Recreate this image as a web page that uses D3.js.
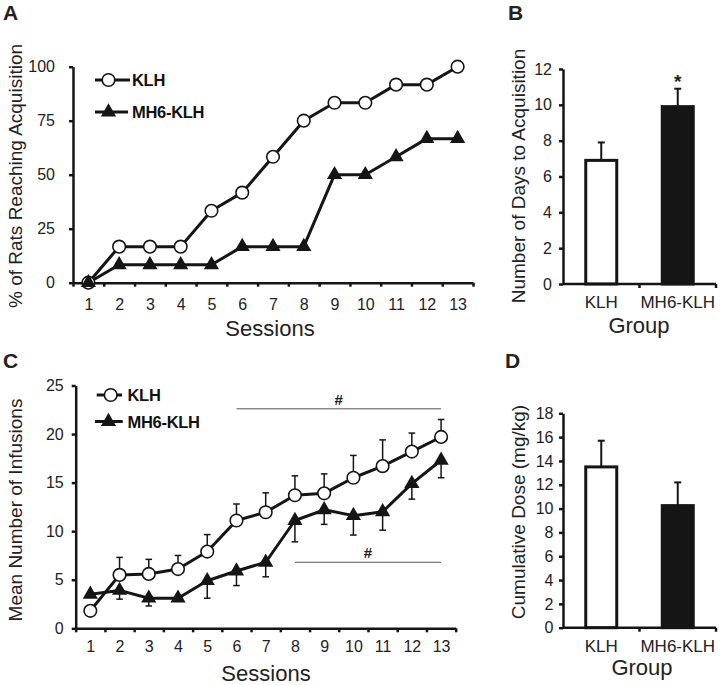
<!DOCTYPE html>
<html><head><meta charset="utf-8">
<script src="https://cdn.jsdelivr.net/npm/d3@7"></script>
<style>
body{margin:0;background:#fff;}
svg{display:block;font-family:"Liberation Sans",Arial,Helvetica,sans-serif;}
</style></head><body>
<svg id="chart" width="723" height="685"></svg>
<script>
// ---------- data ----------
const sessions = [1,2,3,4,5,6,7,8,9,10,11,12,13];
const acqKLH = [0,16.7,16.7,16.7,33.3,41.7,58.3,75,83.3,83.3,91.7,91.7,100];
const acqMH6 = [0,8.3,8.3,8.3,8.3,16.7,16.7,16.7,50,50,58.3,66.7,66.7];
const acqTicks = [0,25,50,75,100];

const groups = ["KLH","MH6-KLH"];
const daysMean = [6.9, 9.9];
const daysSem = [1.0, 1.0];
const daysTicks = [0,2,4,6,8,10,12];

const infKLH = [1.8,5.5,5.6,6.1,7.9,11.1,11.95,13.7,13.9,15.5,16.7,18.2,19.7];
const infKLHsem = [0.4,1.8,1.5,1.4,1.75,1.7,2.0,2.0,2.0,2.3,2.7,1.9,1.8];
const infMH6 = [3.5,3.9,3.1,3.1,4.9,5.9,6.8,11.1,12.2,11.6,12.0,14.9,17.3];
const infMH6sem = [0.3,0.9,0.8,0.3,1.8,1.5,1.5,2.2,1.5,2.0,1.9,1.6,1.8];
const infTicks = [0,5,10,15,20,25];
const sigFrom = [6,8];
const sigTo = [13,13];
const sigLevel = [22.6,6.8];
const sigLabel = ["#","#"];

const doseMean = [13.5, 10.25];
const doseSem = [2.2, 1.95];
const doseTicks = [0,2,4,6,8,10,12,14,16,18];

// ---------- helpers ----------
const svg = d3.select("#chart");
const INK = "#151515";

function styleAxis(g, fs){
  g.selectAll(".domain").attr("stroke", INK).attr("stroke-width", 2.5);
  g.selectAll(".tick line").attr("stroke", INK).attr("stroke-width", 2.5);
  g.selectAll(".tick text").attr("fill", "#222").style("font-size", fs + "px")
    .style("font-family", '"Liberation Sans",Arial,sans-serif');
}

function yLabel(x, y, text){
  svg.append("text").attr("transform", `translate(${x},${y}) rotate(-90)`)
    .attr("text-anchor","middle").attr("fill","#222").style("font-size","19px").text(text);
}
function plainText(x, y, text, size, anchor, weight){
  return svg.append("text").attr("x", x).attr("y", y).attr("text-anchor", anchor || "middle")
    .attr("fill", "#222").style("font-size", size + "px").style("font-weight", weight || "normal").text(text);
}

function drawMarker(g, kind, cx, cy){
  if (kind === "circle") {
    g.append("circle").attr("cx", cx).attr("cy", cy).attr("r", 6.3)
      .attr("fill", "#fff").attr("stroke", INK).attr("stroke-width", 1.6);
  } else {
    g.append("path").attr("d", d3.symbol(d3.symbolTriangle, 100)())
      .attr("transform", `translate(${cx},${cy})`).attr("fill", INK);
  }
}

function legend(x0, x1, xm, y, kind, label, tx){
  const g = svg.append("g");
  g.append("line").attr("x1", x0).attr("x2", x1).attr("y1", y).attr("y2", y)
    .attr("stroke", INK).attr("stroke-width", 3);
  drawMarker(g, kind, xm, y);
  g.append("text").attr("x", tx).attr("y", y + 6).attr("fill", "#111")
    .style("font-size", "16.5px").style("font-weight", "bold").style("letter-spacing","-0.3px").text(label);
}

function sessionAxes(x, y, yTicks, yPad, xLabelPad){
  const edges = sessions.map(s => s - 0.5).concat([sessions[sessions.length-1] + 0.5]);
  const y0 = y.range()[0];
  const gx = svg.append("g").attr("transform", `translate(0,${y0})`)
    .call(d3.axisBottom(x).tickValues(edges).tickSize(4).tickSizeOuter(0).tickFormat(""));
  styleAxis(gx, 16);
  const gl = svg.append("g").attr("transform", `translate(0,${y0})`)
    .call(d3.axisBottom(x).tickValues(sessions).tickSize(0).tickPadding(xLabelPad));
  gl.select(".domain").remove();
  styleAxis(gl, 16);
  const gy = svg.append("g").attr("transform", `translate(${x.range()[0]},0)`)
    .call(d3.axisLeft(y).tickValues(yTicks).tickSize(4).tickSizeOuter(0).tickPadding(yPad));
  styleAxis(gy, 16);
}

// ---------- Panel A ----------
(function(){
  const x = d3.scaleLinear().domain([0.5, 13.5]).range([73, 473]);
  const y = d3.scaleLinear().domain([0, 100]).range([282.7, 66.7]);
  sessionAxes(x, y, acqTicks, 14, 16);
  const line = d3.line().x((d,i) => x(sessions[i])).y(d => y(d));
  const g = svg.append("g");
  g.append("path").attr("d", line(acqKLH)).attr("fill","none").attr("stroke",INK).attr("stroke-width",3).attr("stroke-linejoin","round");
  g.append("path").attr("d", line(acqMH6)).attr("fill","none").attr("stroke",INK).attr("stroke-width",3).attr("stroke-linejoin","round");
  acqKLH.forEach((v,i) => drawMarker(g, "circle", x(sessions[i]), y(v)));
  acqMH6.forEach((v,i) => drawMarker(g, "tri", x(sessions[i]), y(v)));
  legend(95, 130, 108.5, 80, "circle", "KLH", 132);
  legend(95, 128, 108.5, 112, "tri", "MH6-KLH", 132);
  plainText(270, 336, "Sessions", 22);
  yLabel(22, 176, "% of Rats Reaching Acquisition");
  plainText(3, 20, "A", 21, "start", "bold");
})();

// ---------- Bar panel helper ----------
function barPanel(means, sems, ticks, yRange, yPad, labelY, groupY, groupX){
  const xb = d3.scaleBand().domain(groups).range([563, 716]).padding(0);
  const y = d3.scaleLinear().domain([0, ticks[ticks.length-1]]).range(yRange);
  const barW = 31;
  const g = svg.append("g");
  means.forEach((m,i) => {
    const cx = xb(groups[i]) + xb.bandwidth()/2;
    g.append("line").attr("x1",cx).attr("x2",cx).attr("y1",y(m)).attr("y2",y(m+sems[i]))
      .attr("stroke",INK).attr("stroke-width",2);
    g.append("line").attr("x1",cx-3.5).attr("x2",cx+3.5).attr("y1",y(m+sems[i])).attr("y2",y(m+sems[i]))
      .attr("stroke",INK).attr("stroke-width",2);
    g.append("rect").attr("x", cx - barW/2).attr("width", barW)
      .attr("y", y(m)).attr("height", y(0) - y(m))
      .attr("fill", i === 0 ? "#fff" : INK).attr("stroke", INK).attr("stroke-width", 3);
  });
  const y0 = y(0);
  g.append("line").attr("x1", xb.range()[0]).attr("x2", xb.range()[1]).attr("y1", y0).attr("y2", y0)
    .attr("stroke", INK).attr("stroke-width", 2.5);
  groups.forEach((gr,i) => {
    const ex = xb(gr) + xb.bandwidth();
    g.append("line").attr("x1", ex).attr("x2", ex).attr("y1", y0).attr("y2", y0 + 4)
      .attr("stroke", INK).attr("stroke-width", 2.5);
  });
  groups.forEach(gr => plainText(xb(gr) + xb.bandwidth()/2, labelY, gr, 17));
  const gy = svg.append("g").attr("transform", `translate(563,0)`)
    .call(d3.axisLeft(y).tickValues(ticks).tickSize(4).tickSizeOuter(0).tickPadding(yPad));
  styleAxis(gy, 16);
  plainText(groupX, groupY, "Group", 22);
  return {xb, y};
}

// ---------- Panel B ----------
(function(){
  const s = barPanel(daysMean, daysSem, daysTicks, [284, 69], 7, 308, 333, 639);
  const cx = s.xb(groups[1]) + s.xb.bandwidth()/2;
  plainText(cx, s.y(daysMean[1] + daysSem[1]) - 0.5, "*", 19, "middle", "bold");
  yLabel(525, 176, "Number of Days to Acquisition");
  plainText(508, 20, "B", 21, "start", "bold");
})();

// ---------- Panel C ----------
(function(){
  const x = d3.scaleLinear().domain([0.5, 13.5]).range([75.7, 455.7]);
  const y = d3.scaleLinear().domain([0, 25]).range([628.3, 385.5]);
  sessionAxes(x, y, infTicks, 8, 12.3);
  const g = svg.append("g");
  sigFrom.forEach((f,i) => {
    g.append("line").attr("x1", x(f)).attr("x2", x(sigTo[i])).attr("y1", y(sigLevel[i])).attr("y2", y(sigLevel[i]))
      .attr("stroke", "#555").attr("stroke-width", 1);
    g.append("text").attr("x", (x(f) + x(sigTo[i]))/2).attr("y", y(sigLevel[i]) - 4)
      .attr("text-anchor","middle").attr("fill","#222").style("font-size","15px").style("font-weight","bold").text(sigLabel[i]);
  });
  const line = d3.line().x((d,i) => x(sessions[i])).y(d => y(d));
  g.append("path").attr("d", line(infKLH)).attr("fill","none").attr("stroke",INK).attr("stroke-width",3).attr("stroke-linejoin","round");
  g.append("path").attr("d", line(infMH6)).attr("fill","none").attr("stroke",INK).attr("stroke-width",3).attr("stroke-linejoin","round");
  function err(vals, sems, dir){
    vals.forEach((v,i) => {
      const cx = x(sessions[i]);
      const e = v + dir * sems[i];
      g.append("line").attr("x1",cx).attr("x2",cx).attr("y1",y(v)).attr("y2",y(e)).attr("stroke",INK).attr("stroke-width",1.5);
      g.append("line").attr("x1",cx-3.3).attr("x2",cx+3.3).attr("y1",y(e)).attr("y2",y(e)).attr("stroke",INK).attr("stroke-width",1.5);
    });
  }
  err(infKLH, infKLHsem, 1);
  err(infMH6, infMH6sem, -1);
  infMH6.forEach((v,i) => drawMarker(g, "tri", x(sessions[i]), y(v)));
  infKLH.forEach((v,i) => drawMarker(g, "circle", x(sessions[i]), y(v)));
  legend(96.7, 122, 110.7, 395, "circle", "KLH", 127.5);
  legend(95, 122.7, 108.5, 421.5, "tri", "MH6-KLH", 127.5);
  plainText(266, 681, "Sessions", 22);
  yLabel(22, 510, "Mean Number of Infusions");
  plainText(3, 368, "C", 21, "start", "bold");
})();

// ---------- Panel D ----------
(function(){
  barPanel(doseMean, doseSem, doseTicks, [627.7, 413.3], 5.5, 652, 675, 642);
  yLabel(525, 512, "Cumulative Dose (mg/kg)");
  plainText(505, 368, "D", 21, "start", "bold");
})();
</script>
</body></html>
